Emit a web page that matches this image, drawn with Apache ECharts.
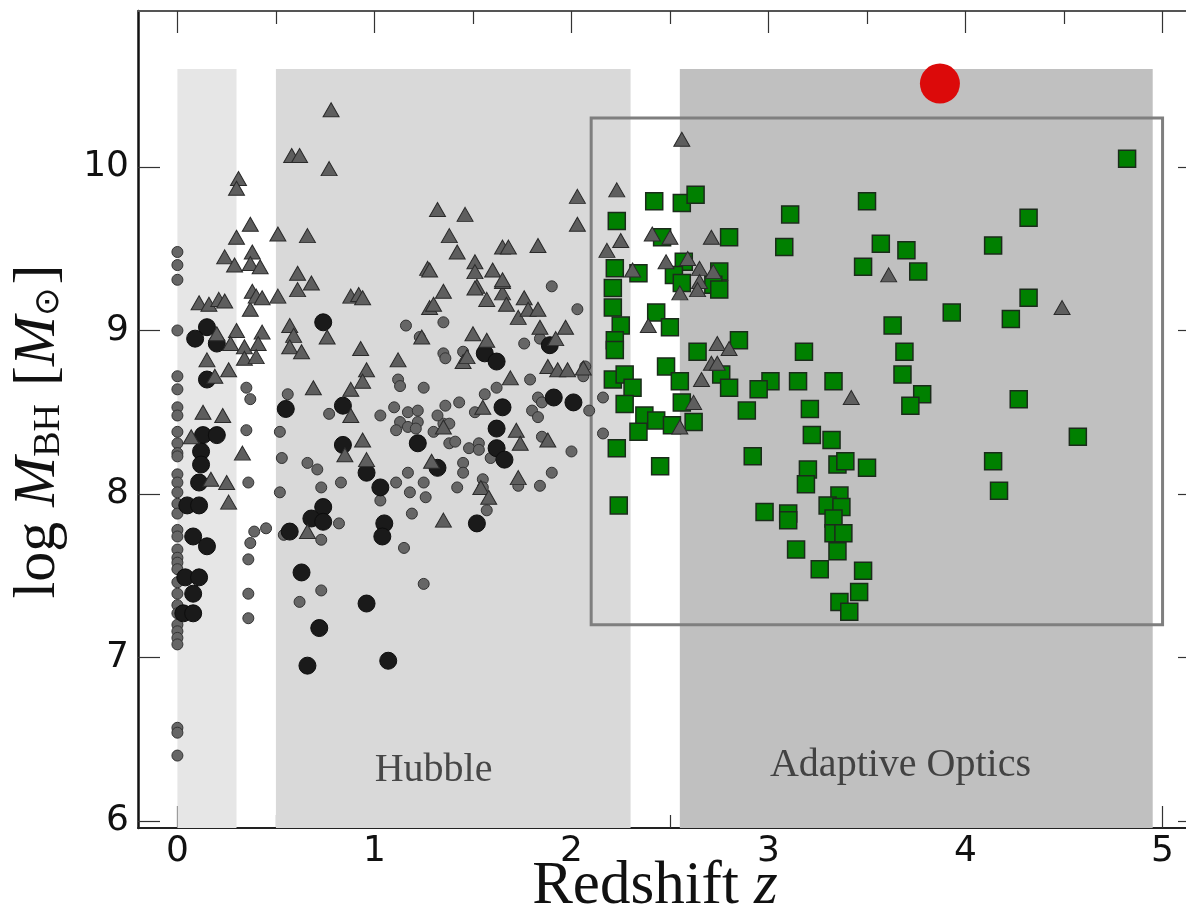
<!DOCTYPE html>
<html>
<head>
<meta charset="utf-8">
<script src="https://cdn.jsdelivr.net/npm/echarts@6/dist/echarts.min.js"></script>
<style>
  html, body { margin: 0; padding: 0; background: #ffffff; }
  #chart { width: 1186px; height: 917px; }
</style>
</head>
<body>
<div id="chart"></div>
<script>
// Axis extents and tick values
const X_RANGE = [-0.2, 5.19];
const Y_RANGE = [5.957, 10.954];
const X_TICKS = [0, 1, 2, 3, 4, 5];
const X_MINOR_TICKS = [0.5, 1.5, 2.5, 3.5, 4.5];
const Y_TICKS = [6, 7, 8, 9, 10];

// Redshift windows of the observing campaigns [zFrom, zTo, logM top]
const bandLocal = [0.0, 0.3, 10.6];
const bandHubble = [0.5, 2.3, 10.6];
const bandAO = [2.55, 4.95, 10.6];
// Highlighted target region [zFrom, zTo, logMFrom, logMTo]
const targetBox = [2.1, 5.0, 7.2, 10.3];

// Region labels [z, logM, text]
const regionLabels = [
  [1.30, 6.31, 'Hubble'],
  [3.67, 6.34, 'Adaptive Optics']
];

// Local / low-z sample (small grey circles)
const localSample = [
  [0.00, 9.48], [0.00, 9.40], [0.00, 9.31], [0.00, 9.00], [0.00, 8.72], [0.00, 8.64],
  [0.00, 8.53], [0.00, 8.48], [0.00, 8.38], [0.00, 8.31], [0.00, 8.25], [0.00, 8.23],
  [0.00, 8.12], [0.00, 8.07], [0.00, 8.01], [0.00, 7.94], [0.00, 7.88], [0.00, 7.78],
  [0.00, 7.74], [0.00, 7.66], [0.00, 7.61], [0.00, 7.58], [0.00, 7.54], [0.00, 7.46],
  [0.00, 7.39], [0.00, 7.32], [0.00, 7.27], [0.00, 7.20], [0.00, 7.16], [0.00, 7.12],
  [0.00, 7.08], [0.00, 6.57], [0.00, 6.54], [0.00, 6.40],
  [0.36, 8.07], [0.53, 8.22], [0.39, 7.77], [0.45, 7.79], [0.37, 7.70], [0.36, 7.60],
  [0.36, 7.39], [0.36, 7.24], [0.35, 8.65], [0.37, 8.58], [0.52, 8.38], [0.56, 8.61],
  [0.35, 8.39], [0.77, 8.49], [1.03, 8.48], [1.16, 9.03], [1.12, 8.70], [1.13, 8.66],
  [1.25, 8.65], [1.10, 8.53], [1.17, 8.50], [1.22, 8.51], [1.13, 8.44], [1.17, 8.41],
  [1.22, 8.44], [0.66, 8.19], [0.71, 8.15], [0.52, 8.01], [0.83, 8.07], [0.73, 8.04],
  [0.82, 7.82], [0.73, 7.72], [0.54, 7.75], [0.73, 7.41], [0.62, 7.34], [1.03, 7.96],
  [1.11, 8.07], [1.17, 8.13], [1.18, 8.01], [1.19, 7.88], [1.15, 7.67], [1.25, 7.45],
  [1.25, 8.07], [1.26, 7.98], [1.90, 9.27], [2.03, 9.13], [1.35, 9.05], [1.23, 8.96],
  [1.76, 8.92], [1.35, 8.86], [1.36, 8.83], [1.45, 8.87], [1.11, 8.39], [1.21, 8.40],
  [1.30, 8.38], [1.35, 8.43], [1.38, 8.43], [1.32, 8.48], [1.36, 8.54], [1.43, 8.56],
  [1.56, 8.61], [1.62, 8.65], [1.51, 8.50], [1.79, 8.70], [1.83, 8.59], [1.85, 8.56],
  [1.80, 8.51], [1.83, 8.47], [2.06, 8.72], [2.09, 8.51], [2.16, 8.59], [2.16, 8.37],
  [2.00, 8.26], [1.90, 8.13], [1.84, 8.05], [1.85, 8.35], [1.38, 8.31], [1.41, 8.32],
  [1.48, 8.28], [1.53, 8.31], [1.53, 8.27], [1.45, 8.19], [1.45, 8.13], [1.59, 8.22],
  [1.55, 8.09], [1.55, 8.04], [1.57, 7.90], [1.42, 8.04], [1.73, 8.05], [1.84, 8.95],
  [2.07, 8.78]
];

// Reverberation / dynamical masses (large black circles)
const dynamicalSample = [
  [0.15, 9.02], [0.09, 8.95], [0.20, 8.92], [0.15, 8.70], [0.74, 9.05], [0.55, 8.52],
  [0.84, 8.54], [0.13, 8.36], [0.20, 8.36], [0.84, 8.30], [1.22, 8.31], [0.12, 8.26],
  [0.12, 8.18], [0.11, 8.07], [0.05, 7.93], [0.11, 7.93], [0.08, 7.74], [0.15, 7.68],
  [0.04, 7.49], [0.11, 7.49], [0.08, 7.39], [0.03, 7.27], [0.08, 7.27], [0.96, 8.13],
  [1.03, 8.04], [0.74, 7.92], [0.68, 7.85], [0.74, 7.83], [0.57, 7.77], [1.05, 7.82],
  [1.04, 7.74], [0.63, 7.52], [0.96, 7.33], [0.72, 7.18], [0.66, 6.95], [1.07, 6.98],
  [1.56, 8.86], [1.62, 8.81], [1.89, 8.91], [1.91, 8.59], [2.01, 8.56], [1.65, 8.53],
  [1.62, 8.40], [1.62, 8.28], [1.66, 8.21], [1.32, 8.16], [1.52, 7.82]
];

// Single-epoch quasar masses (grey triangles)
const quasarSample = [
  [0.78, 10.35], [0.58, 10.07], [0.62, 10.07], [0.77, 9.99], [0.31, 9.93], [0.30, 9.87],
  [0.37, 9.65], [0.30, 9.57], [0.51, 9.59], [0.66, 9.58], [0.24, 9.45], [0.29, 9.40],
  [0.38, 9.48], [0.37, 9.41], [0.42, 9.39], [0.61, 9.35], [0.68, 9.29], [0.61, 9.25],
  [0.11, 9.17], [0.16, 9.16], [0.21, 9.19], [0.24, 9.18], [0.37, 9.13], [0.38, 9.24],
  [0.40, 9.21], [0.43, 9.20], [0.51, 9.21], [0.88, 9.21], [0.92, 9.22], [0.94, 9.20],
  [1.27, 9.38], [1.28, 9.14], [0.20, 8.98], [0.30, 9.00], [0.43, 8.99], [0.27, 8.92],
  [0.34, 8.90], [0.41, 8.92], [0.15, 8.82], [0.34, 8.83], [0.40, 8.84], [0.26, 8.76],
  [0.19, 8.72], [0.57, 9.03], [0.59, 8.97], [0.76, 8.96], [0.57, 8.90], [0.63, 8.87],
  [0.93, 8.89], [1.12, 8.82], [0.96, 8.76], [0.94, 8.69], [0.88, 8.64], [0.69, 8.65],
  [0.13, 8.50], [0.23, 8.48], [0.88, 8.48], [0.07, 8.35], [0.94, 8.33], [1.24, 8.96],
  [0.33, 8.25], [0.17, 8.09], [0.25, 8.07], [0.26, 7.95], [0.96, 8.21], [0.66, 7.77],
  [0.85, 8.24], [1.35, 9.24], [1.30, 9.16], [1.52, 9.27], [1.57, 9.19], [1.65, 9.23],
  [1.67, 9.16], [1.76, 9.20], [1.73, 9.08], [1.78, 9.13], [1.83, 9.13], [1.65, 9.30],
  [1.84, 9.02], [1.97, 9.02], [1.92, 8.95], [1.50, 8.98], [1.57, 8.94], [1.45, 8.81],
  [1.47, 8.84], [1.88, 8.78], [1.93, 8.76], [1.98, 8.76], [2.06, 8.77], [1.69, 8.71],
  [1.55, 8.53], [1.72, 8.39], [1.74, 8.31], [1.88, 8.33], [1.35, 8.41], [1.29, 8.20],
  [1.73, 8.10], [1.54, 8.04], [1.58, 7.98], [1.35, 7.84], [2.03, 9.82], [2.03, 9.65],
  [1.32, 9.74], [1.46, 9.71], [1.38, 9.58], [1.42, 9.48], [1.65, 9.51], [1.68, 9.51],
  [1.83, 9.52], [1.28, 9.37], [1.51, 9.42], [1.51, 9.36], [1.60, 9.37], [1.65, 9.31],
  [1.51, 9.26], [2.56, 10.17], [2.23, 9.86], [2.25, 9.55], [2.18, 9.49], [2.41, 9.59],
  [2.50, 9.57], [2.71, 9.57], [2.31, 9.37], [2.48, 9.42], [2.59, 9.44], [2.65, 9.38],
  [2.72, 9.36], [2.65, 9.30], [2.64, 9.25], [2.55, 9.23], [2.39, 9.03], [2.74, 8.92],
  [2.71, 8.80], [2.74, 8.80], [2.80, 8.89], [2.66, 8.70], [2.62, 8.56], [2.55, 8.41],
  [3.42, 8.59], [3.61, 9.34], [4.49, 9.14]
];

// Targets reachable with adaptive optics (green squares)
const aoTargets = [
  [4.82, 10.05], [2.42, 9.79], [2.56, 9.78], [2.63, 9.83], [2.23, 9.67], [3.11, 9.71],
  [3.50, 9.79], [2.80, 9.57], [3.08, 9.51], [2.46, 9.57], [3.57, 9.53], [3.70, 9.49],
  [4.14, 9.52], [4.32, 9.69], [3.48, 9.39], [2.22, 9.38], [2.34, 9.35], [2.57, 9.42],
  [2.75, 9.36], [2.52, 9.34], [3.76, 9.36], [2.56, 9.29], [2.72, 9.28], [2.75, 9.25],
  [2.21, 9.26], [4.32, 9.20], [2.21, 9.14], [2.43, 9.11], [3.93, 9.11], [4.23, 9.07],
  [3.63, 9.03], [2.25, 9.03], [2.50, 9.02], [2.22, 8.94], [2.22, 8.88], [2.85, 8.94],
  [2.64, 8.87], [3.18, 8.87], [3.69, 8.87], [2.48, 8.78], [2.76, 8.73], [3.68, 8.73],
  [2.21, 8.70], [2.27, 8.73], [2.31, 8.65], [2.55, 8.69], [2.80, 8.65], [3.01, 8.69],
  [2.95, 8.64], [3.15, 8.69], [3.33, 8.69], [3.78, 8.61], [3.72, 8.54], [4.27, 8.58],
  [2.27, 8.55], [2.56, 8.56], [2.37, 8.48], [2.43, 8.45], [2.51, 8.42], [2.62, 8.44],
  [2.89, 8.51], [3.21, 8.52], [2.34, 8.38], [3.22, 8.36], [3.32, 8.33], [4.57, 8.35],
  [2.23, 8.28], [2.45, 8.17], [2.92, 8.23], [3.20, 8.15], [3.19, 8.06], [3.35, 8.18],
  [3.39, 8.20], [3.50, 8.16], [4.14, 8.20], [4.17, 8.02], [2.24, 7.93], [3.36, 7.99],
  [3.30, 7.93], [3.37, 7.92], [2.98, 7.89], [3.10, 7.88], [3.10, 7.84], [3.33, 7.85],
  [3.33, 7.76], [3.38, 7.76], [3.14, 7.66], [3.35, 7.65], [3.26, 7.54], [3.48, 7.53],
  [3.46, 7.40], [3.36, 7.34], [3.41, 7.28]
];

// The single highlighted object (red)
const highlighted = [[3.87, 10.51]];

const SERIF = "'Liberation Serif', 'DejaVu Serif', serif";
const SANS = "'DejaVu Sans', sans-serif";

function band(b, color) {
  return [
    { xAxis: b[0], yAxis: Y_RANGE[0], itemStyle: { color: color } },
    { xAxis: b[1], yAxis: b[2] }
  ];
}

const majorTickStyle = { color: '#333', width: 1.2 };
const gridBox = { left: 138, top: 11, width: 1062, height: 817, containLabel: false, outerBoundsMode: 'none' };

const chart = echarts.init(document.getElementById('chart'), null, { renderer: 'canvas' });

chart.setOption({
  animation: false,
  backgroundColor: '#ffffff',
  grid: [Object.assign({}, gridBox), Object.assign({}, gridBox)],
  xAxis: [
    {
      type: 'value', gridIndex: 0, position: 'bottom',
      min: X_RANGE[0], max: X_RANGE[1],
      axisLine: { show: true, onZero: false, lineStyle: { color: '#222', width: 2 } },
      axisTick: { show: true, inside: true, length: 22, customValues: X_TICKS, lineStyle: majorTickStyle },
      axisLabel: { show: true, customValues: X_TICKS, fontFamily: SANS, fontSize: 36, color: '#111', margin: 6 },
      splitLine: { show: false },
      name: '{r|Redshift }{i|z}',
      nameLocation: 'middle', nameGap: 28, nameMoveOverlap: false,
      nameTextStyle: {
        color: '#111', padding: [0, 28, 0, 0],
        rich: {
          r: { fontFamily: SERIF, fontSize: 61, color: '#111' },
          i: { fontFamily: SERIF, fontSize: 61, fontStyle: 'italic', color: '#111' }
        }
      }
    },
    {
      type: 'value', gridIndex: 0, position: 'top',
      min: X_RANGE[0], max: X_RANGE[1],
      axisLine: { show: true, onZero: false, lineStyle: { color: '#555', width: 2 } },
      axisTick: { show: true, inside: true, length: 22, customValues: X_TICKS, lineStyle: majorTickStyle },
      axisLabel: { show: false },
      splitLine: { show: false }
    },
    {
      type: 'value', gridIndex: 1, position: 'bottom',
      min: X_RANGE[0], max: X_RANGE[1],
      axisLine: { show: false, onZero: false },
      axisTick: { show: true, inside: true, length: 13, customValues: X_MINOR_TICKS, lineStyle: majorTickStyle },
      axisLabel: { show: false },
      splitLine: { show: false }
    },
    {
      type: 'value', gridIndex: 1, position: 'top',
      min: X_RANGE[0], max: X_RANGE[1],
      axisLine: { show: false, onZero: false },
      axisTick: { show: true, inside: true, length: 13, customValues: X_MINOR_TICKS, lineStyle: majorTickStyle },
      axisLabel: { show: false },
      splitLine: { show: false }
    }
  ],
  yAxis: [
    {
      type: 'value', gridIndex: 0, position: 'left',
      min: Y_RANGE[0], max: Y_RANGE[1],
      axisLine: { show: true, onZero: false, lineStyle: { color: '#111', width: 2.5 } },
      axisTick: { show: true, inside: true, length: 22, customValues: Y_TICKS, lineStyle: majorTickStyle },
      axisLabel: { show: true, customValues: Y_TICKS, fontFamily: SANS, fontSize: 36, color: '#111', margin: 9,
        formatter: v => String(Math.round(v)) },
      splitLine: { show: false },
      name: '{r|log }{i|M}{s|BH}{r| [}{i|M}{o|⊙}{r|]}',
      nameLocation: 'middle', nameGap: 70, nameRotate: 90, nameMoveOverlap: false,
      nameTextStyle: {
        color: '#111', padding: [0, 24, 0, 0],
        rich: {
          r: { fontFamily: SERIF, fontSize: 60, color: '#111' },
          i: { fontFamily: SERIF, fontSize: 60, fontStyle: 'italic', color: '#111' },
          s: { fontFamily: SERIF, fontSize: 38, color: '#111', padding: [22, 3, 0, 0] },
          o: { fontFamily: SANS, fontSize: 34, color: '#111', padding: [22, 3, 0, 0] }
        }
      }
    },
    {
      type: 'value', gridIndex: 0, position: 'right',
      min: Y_RANGE[0], max: Y_RANGE[1],
      axisLine: { show: true, onZero: false, lineStyle: { color: '#555', width: 2 } },
      axisTick: { show: true, inside: true, length: 22, customValues: Y_TICKS, lineStyle: majorTickStyle },
      axisLabel: { show: false },
      splitLine: { show: false }
    },
    {
      type: 'value', gridIndex: 1, show: false,
      min: Y_RANGE[0], max: Y_RANGE[1]
    }
  ],
  series: [
    {
      name: 'windows', type: 'scatter', xAxisIndex: 0, yAxisIndex: 0, data: [], z: 1,
      silent: true,
      markArea: {
        silent: true,
        label: { show: false },
        data: [
          band(bandLocal, '#e6e6e6'),
          band(bandHubble, '#d9d9d9'),
          band(bandAO, '#c0c0c0')
        ]
      }
    },
    {
      name: 'target box', type: 'scatter', xAxisIndex: 0, yAxisIndex: 0, data: [], z: 2,
      silent: true,
      markArea: {
        silent: true,
        label: { show: false },
        itemStyle: { color: 'rgba(0,0,0,0)', borderColor: '#7f7f7f', borderWidth: 3 },
        data: [[
          { xAxis: targetBox[0], yAxis: targetBox[2] },
          { xAxis: targetBox[1], yAxis: targetBox[3] }
        ]]
      }
    },
    {
      name: 'region labels', type: 'scatter', xAxisIndex: 0, yAxisIndex: 0, z: 3,
      symbolSize: 0, silent: true,
      data: regionLabels.map(d => ({ value: [d[0], d[1]], name: d[2] })),
      label: {
        show: true, position: 'inside', formatter: '{b}',
        fontFamily: SERIF, fontSize: 40, color: '#222'
      }
    },
    {
      name: 'local', type: 'scatter', xAxisIndex: 0, yAxisIndex: 0, z: 4,
      symbol: 'circle', symbolSize: 11, data: localSample,
      itemStyle: { color: '#666666', borderColor: '#333333', borderWidth: 1, opacity: 1 }
    },
    {
      name: 'dynamical', type: 'scatter', xAxisIndex: 0, yAxisIndex: 0, z: 5,
      symbol: 'circle', symbolSize: 17, data: dynamicalSample,
      itemStyle: { color: '#1a1a1a', borderColor: '#0d0d0d', borderWidth: 1, opacity: 1 }
    },
    {
      name: 'AO targets', type: 'scatter', xAxisIndex: 0, yAxisIndex: 0, z: 6,
      symbol: 'rect', symbolSize: 17, data: aoTargets,
      itemStyle: { color: '#008000', borderColor: '#1b2b1b', borderWidth: 1.5, opacity: 1 }
    },
    {
      name: 'quasars', type: 'scatter', xAxisIndex: 0, yAxisIndex: 0, z: 7,
      symbol: 'triangle', symbolSize: [16, 14], data: quasarSample,
      itemStyle: { color: '#5e5e5e', borderColor: '#2a2a2a', borderWidth: 1, opacity: 1 }
    },
    {
      name: 'highlighted', type: 'scatter', xAxisIndex: 0, yAxisIndex: 0, z: 8,
      symbol: 'circle', symbolSize: 40, data: highlighted,
      itemStyle: { color: '#dc0a0a', opacity: 1 }
    }
  ]
});
</script>
</body>
</html>
